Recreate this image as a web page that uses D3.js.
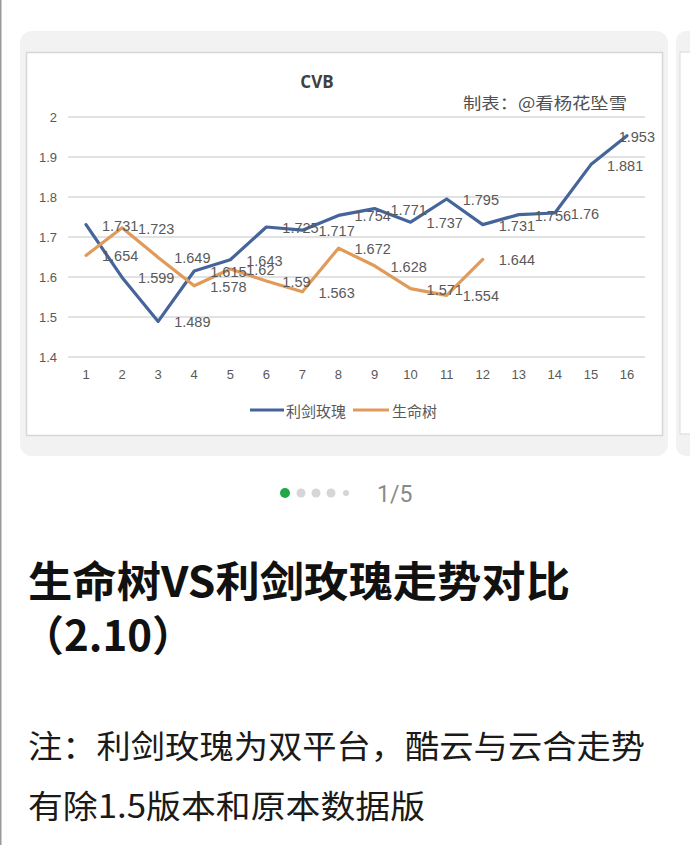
<!DOCTYPE html>
<html>
<head>
<meta charset="utf-8">
<script src="https://cdn.jsdelivr.net/npm/d3@7"></script>
<style>
  html, body { margin: 0; padding: 0; background: #ffffff; }
  svg { display: block; }
</style>
</head>
<body>
<svg id="c" width="690" height="845"></svg>
<script>
// ---- data ----
const categories = ["1","2","3","4","5","6","7","8","9","10","11","12","13","14","15","16"];
const roseValues = [1.731,1.599,1.489,1.615,1.643,1.725,1.717,1.754,1.771,1.737,1.795,1.731,1.756,1.76,1.881,1.953];
const treeValues = [1.654,1.723,1.649,1.578,1.62,1.59,1.563,1.672,1.628,1.571,1.554,1.644];
const yTicks = [1.4,1.5,1.6,1.7,1.8,1.9,2];
const seriesNames = ["利剑玫瑰","生命树"];
const chartTitle = "CVB";
const credit = "制表：@看杨花坠雪";
const pageLabel = "1/5";
const postTitle = ["生命树VS利剑玫瑰走势对比", "（2.10）"];
const noteLines = ["注：利剑玫瑰为双平台，酷云与云合走势", "有除1.5版本和原本数据版"];

const svg = d3.select("#c");
const CJK = "'Noto Sans CJK SC', 'Noto Sans', sans-serif";
const LAT = "'Liberation Sans', Arial, sans-serif";

// left screen edge line
svg.append("rect").attr("x",0).attr("y",0).attr("width",1.5).attr("height",845).attr("fill","#9a9a9a");

// peeking next card
svg.append("rect").attr("x",676).attr("y",31).attr("width",40).attr("height",425).attr("rx",10).attr("fill","#f2f2f2");
svg.append("rect").attr("x",680).attr("y",52).attr("width",30).attr("height",382).attr("fill","#fff").attr("stroke","#d9d9d9");

// card
svg.append("rect").attr("x",20).attr("y",31).attr("width",648).attr("height",425).attr("rx",12).attr("fill","#f2f2f2");
svg.append("rect").attr("x",26.5).attr("y",52.5).attr("width",636).attr("height",383).attr("fill","#fff").attr("stroke","#d6d6d6").attr("stroke-width",1.5);

// scales
const x = d3.scaleBand().domain(categories).range([68,645]);
const y = d3.scaleLinear().domain([1.4,2]).range([357,117]);
const cx = d => x(d) + x.bandwidth()/2;

// gridlines
svg.append("g").selectAll("line").data(yTicks).join("line")
  .attr("x1",68).attr("x2",645)
  .attr("y1",d=>y(d)).attr("y2",d=>y(d))
  .attr("stroke","#d9d9d9").attr("stroke-width",1.3);

// y axis labels
const yAxis = d3.axisLeft(y).tickValues(yTicks).tickSize(0).tickPadding(0).tickFormat(d3.format("~g"));
const gy = svg.append("g").attr("transform","translate(57,0)").call(yAxis);
gy.select(".domain").remove();
gy.selectAll("text").attr("font-family",LAT).attr("font-size",13).attr("fill","#595959");

// x axis labels
const xAxis = d3.axisBottom(x).tickSize(0).tickPadding(0);
const gx = svg.append("g").attr("transform","translate(0,370)").call(xAxis);
gx.select(".domain").remove();
gx.selectAll("text").attr("font-family",LAT).attr("font-size",13).attr("fill","#595959");

// title & credit
svg.append("text").attr("x",317).attr("y",88).attr("text-anchor","middle")
  .attr("font-family","'Open Sans', "+LAT).attr("font-weight",700).attr("font-size",17).attr("fill","#404040").text(chartTitle);
svg.append("text").attr("x",463).attr("y",109)
  .attr("font-family",CJK).attr("font-size",16).attr("fill","#505050")
  .attr("textLength",164).attr("lengthAdjust","spacingAndGlyphs").text(credit);

// lines
const colors = ["#45659a","#e09a5a"];
const series = [roseValues, treeValues];
const line = d3.line().x((d,i)=>cx(categories[i])).y(d=>y(d));
series.forEach((vals,k)=>{
  svg.append("path").datum(vals).attr("d",line)
    .attr("fill","none").attr("stroke",colors[k]).attr("stroke-width",3.2)
    .attr("stroke-linejoin","round").attr("stroke-linecap","round");
});

// data labels (right of point)
series.forEach((vals,k)=>{
  svg.append("g").selectAll("text").data(vals).join("text")
    .attr("font-family",LAT).attr("font-size",14.5).attr("fill","#595959")
    .attr("dominant-baseline","central")
    .attr("y",(d,i)=>y(d)+1)
    .text(d=>d3.format("~g")(d))
    .attr("x",function(d,i){
      const w = this.getComputedTextLength();
      let px = cx(categories[i]) + 16;
      if (px + w > 655) px = 655 - w;
      return px;
    });
});

// legend
const legend = svg.append("g");
const legItems = [{x:250,lw:34,tx:286},{x:353,lw:36,tx:392}];
legItems.forEach((it,k)=>{
  legend.append("line").attr("x1",it.x).attr("x2",it.x+it.lw).attr("y1",410).attr("y2",410)
    .attr("stroke",colors[k]).attr("stroke-width",3.2);
  legend.append("text").attr("x",it.tx).attr("y",410).attr("dominant-baseline","central")
    .attr("font-family",CJK).attr("font-size",15).attr("fill","#595959").text(seriesNames[k]);
});

// pagination
const dots = [{x:285,r:5,c:"#1fa847"},{x:301,r:4.5,c:"#d6d6d6"},{x:316,r:4.5,c:"#d6d6d6"},{x:331,r:4.5,c:"#d6d6d6"},{x:346,r:3,c:"#d6d6d6"}];
svg.append("g").selectAll("circle").data(dots).join("circle")
  .attr("cx",d=>d.x).attr("cy",493).attr("r",d=>d.r).attr("fill",d=>d.c);
svg.append("text").attr("x",377).attr("y",502).attr("font-family","Roboto, "+LAT).attr("font-size",23)
  .attr("fill","#8a8a8a").text(pageLabel);

// post title
svg.append("text").attr("x",28).attr("y",597).attr("font-family",CJK).attr("font-weight",700)
  .attr("font-size",42).attr("fill","#111").attr("textLength",542).attr("lengthAdjust","spacingAndGlyphs").text(postTitle[0]);
svg.append("text").attr("x",22).attr("y",651).attr("font-family",CJK).attr("font-weight",700)
  .attr("font-size",42).attr("fill","#111").text(postTitle[1]);

// note
svg.append("text").attr("x",28).attr("y",758).attr("font-family",CJK)
  .attr("font-size",32).attr("fill","#1a1a1a").attr("textLength",617).attr("lengthAdjust","spacingAndGlyphs").text(noteLines[0]);
svg.append("text").attr("x",28).attr("y",818).attr("font-family",CJK)
  .attr("font-size",32).attr("fill","#1a1a1a").attr("textLength",397).attr("lengthAdjust","spacingAndGlyphs").text(noteLines[1]);
</script>
</body>
</html>
